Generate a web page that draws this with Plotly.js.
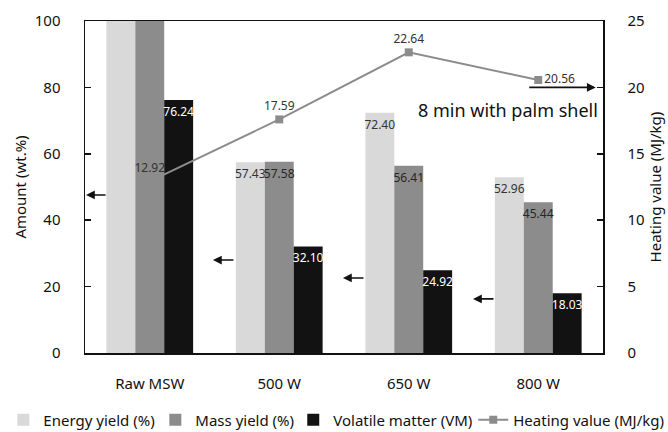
<!DOCTYPE html>
<html>
<head>
<meta charset="utf-8">
<script src="https://cdn.plot.ly/plotly-3.0.1.min.js"></script>
<style>html,body{margin:0;padding:0;background:#fff;}</style>
</head>
<body>
<div id="chart" style="width:668px;height:432px;"></div>
<script>
const categories = ["Raw MSW", "500 W", "650 W", "800 W"];
const energyYield = [100, 57.43, 72.40, 52.96];
const massYield = [100, 57.58, 56.41, 45.44];
const volatileMatter = [76.24, 32.10, 24.92, 18.03];
const heatingValue = [12.92, 17.59, 22.64, 20.56];
const energyLabels = ["", "57.43", "72.40", "52.96"];
const massLabels = ["", "57.58", "56.41", "45.44"];
const vmLabels = ["76.24", "32.10", "24.92", "18.03"];
const heatingLabels = ["12.92", "17.59", "22.64", "20.56"];

const FONT = "Noto Sans, Open Sans, sans-serif";

const barCommon = {
  type: "bar",
  x: categories,
  textposition: "inside",
  insidetextanchor: "end",
  textangle: 0,
  constraintext: "none",
  cliponaxis: false
};

const traces = [
  Object.assign({}, barCommon, {
    name: "Energy yield (%)",
    y: energyYield,
    text: energyLabels,
    marker: {color: "#d9d9d9"},
    insidetextfont: {color: "#333333", size: 12, family: FONT},
    legend: "legend",
    legendwidth: 107
  }),
  Object.assign({}, barCommon, {
    name: "Mass yield (%)",
    y: massYield,
    text: massLabels,
    marker: {color: "#8c8c8c"},
    insidetextfont: {color: "#262626", size: 12, family: FONT},
    legend: "legend"
  }),
  Object.assign({}, barCommon, {
    name: "Volatile matter (VM)",
    y: volatileMatter,
    text: vmLabels,
    marker: {color: "#121212"},
    insidetextfont: {color: "#ffffff", size: 12, family: FONT},
    legend: "legend2",
    legendwidth: 135
  }),
  {
    type: "scatter",
    mode: "lines+markers+text",
    name: "Heating value (MJ/kg)",
    x: categories,
    y: heatingValue,
    yaxis: "y2",
    text: heatingLabels,
    textposition: ["top center", "top center", "top center", "middle right"],
    textfont: {color: "#333333", size: 12, family: FONT},
    line: {color: "#8c8c8c", width: 2},
    marker: {color: "#8c8c8c", symbol: "square", size: 8},
    cliponaxis: false,
    legend: "legend2"
  }
];

const arrows = [
  {x: 0.002, y: 47.6, ax: 21},
  {x: 0.247, y: 28.0, ax: 22},
  {x: 0.498, y: 22.6, ax: 22},
  {x: 0.749, y: 16.3, ax: 22}
].map(a => ({
  xref: "paper", yref: "y", x: a.x, y: a.y, ax: a.ax, ay: 0,
  showarrow: true, arrowhead: 2, arrowsize: 1.1, arrowwidth: 1.6, arrowcolor: "#111",
  text: ""
}));

arrows.push({
  xref: "paper", yref: "y2", x: 0.986, y: 20, ax: -68, ay: 0,
  showarrow: true, arrowhead: 2, arrowsize: 1.1, arrowwidth: 1.6, arrowcolor: "#111",
  text: ""
});
arrows.push({
  xref: "paper", yref: "y2", x: 0.994, y: 18.3, xanchor: "right", yanchor: "middle",
  showarrow: false, text: "8 min with palm shell",
  font: {family: FONT, size: 18, color: "#111"}
});

const legendCommon = {
  orientation: "h",
  xref: "container", yref: "container",
  xanchor: "left", y: 0.028, yanchor: "middle",
  font: {size: 15, family: FONT, color: "#111"},
  itemwidth: 30, tracegroupgap: 0, traceorder: "normal",
  borderwidth: 0, bgcolor: "rgba(0,0,0,0)"
};

const layout = {
  width: 668, height: 432,
  margin: {l: 85, r: 65, t: 21, b: 79, autoexpand: false},
  paper_bgcolor: "#ffffff",
  plot_bgcolor: "#ffffff",
  font: {family: FONT, color: "#111"},
  barmode: "group",
  bargap: 0.33,
  bargroupgap: 0,
  showlegend: true,
  legend: Object.assign({}, legendCommon, {x: 0.005}),
  legend2: Object.assign({}, legendCommon, {x: 0.439}),
  xaxis: {
    type: "category", automargin: false,
    showline: true, linecolor: "#111", linewidth: 1.5, mirror: true,
    ticks: "", ticklabelstandoff: 16,
    tickfont: {size: 15, family: FONT, color: "#111"},
    showgrid: false, zeroline: false
  },
  yaxis: {
    range: [0, 100], dtick: 20, automargin: false,
    showline: true, linecolor: "#111", linewidth: 1.5,
    ticks: "inside", ticklen: 6, tickwidth: 1.5, tickcolor: "#111",
    ticklabelstandoff: 20,
    tickfont: {size: 15, family: FONT, color: "#111"},
    showgrid: false, zeroline: false,
    title: {text: "Amount (wt.%)", font: {size: 15, family: FONT, color: "#111"}, standoff: 4}
  },
  yaxis2: {
    overlaying: "y", side: "right", automargin: false,
    range: [0, 25], dtick: 5,
    showline: true, linecolor: "#111", linewidth: 1.5,
    ticks: "inside", ticklen: 6, tickwidth: 1.5, tickcolor: "#111",
    ticklabelstandoff: 20,
    tickfont: {size: 15, family: FONT, color: "#111"},
    showgrid: false, zeroline: false,
    title: {text: "Heating value (MJ/kg)", font: {size: 15, family: FONT, color: "#111"}, standoff: 4}
  },
  annotations: arrows
};

Plotly.newPlot("chart", traces, layout, {displayModeBar: false, staticPlot: true});
</script>
</body>
</html>
